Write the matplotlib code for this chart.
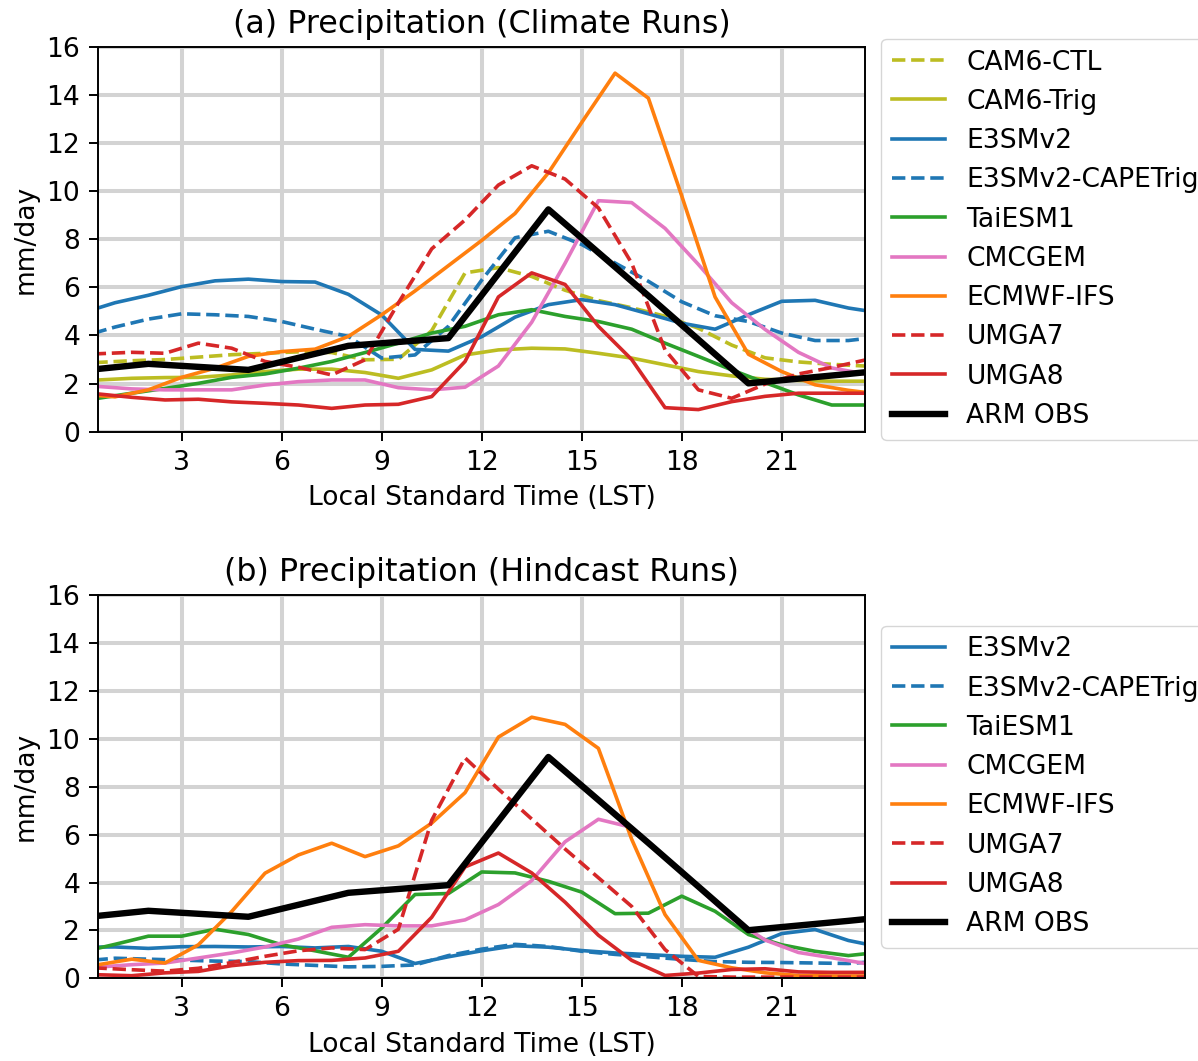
import numpy as np
import matplotlib
matplotlib.use("Agg")
import matplotlib.pyplot as plt

# ---------------- data ----------------
hours_int = np.arange(0, 24)            # models sampled on the hour
hours_half = np.arange(0.5, 24, 1.0)    # models sampled at half hours
obs_hours = np.array([2, 5, 8, 11, 14, 17, 20, 23])
arm_obs = [2.82, 2.57, 3.57, 3.89, 9.24, 5.65, 2.01, 2.40]

# (a) climate runs
cam6_ctl = [2.88, 2.95, 3.00, 3.10, 3.20, 3.26, 3.32, 3.29, 2.99, 3.01, 4.20, 6.60,
            6.82, 6.45, 5.88, 5.45, 5.15, 4.80, 4.30, 3.60, 3.07, 2.90, 2.80, 2.73]
cam6_trig = [2.15, 2.22, 2.25, 2.26, 2.36, 2.50, 2.60, 2.60, 2.46, 2.22, 2.57, 3.19,
             3.40, 3.47, 3.44, 3.26, 3.06, 2.78, 2.50, 2.32, 2.18, 2.13, 2.10, 2.10]
e3sm_a = [4.93, 5.36, 5.67, 6.03, 6.27, 6.34, 6.24, 6.22, 5.71, 4.85, 3.42, 3.35,
          3.95, 4.76, 5.28, 5.49, 5.28, 4.90, 4.51, 4.26, 4.86, 5.42, 5.46, 5.14]
e3sm_cape_a = [3.95, 4.35, 4.68, 4.90, 4.86, 4.79, 4.58, 4.26, 3.96, 3.06, 3.19, 4.38,
               6.30, 8.06, 8.33, 7.78, 7.01, 6.25, 5.40, 4.82, 4.58, 4.10, 3.79, 3.79]
taiesm_a = [1.39, 1.60, 1.80, 2.01, 2.26, 2.40, 2.64, 2.92, 3.29, 3.68, 4.10, 4.38,
            4.86, 5.07, 4.79, 4.58, 4.26, 3.68, 3.13, 2.57, 2.04, 1.53, 1.11, 1.11]
cmcgem_a = [1.88, 1.78, 1.74, 1.74, 1.74, 1.94, 2.08, 2.15, 2.15, 1.83, 1.74, 1.85,
            2.73, 4.55, 7.00, 9.60, 9.52, 8.45, 6.95, 5.36, 4.25, 3.30, 2.65, 2.40]
ecmwf_a = [1.55, 1.45, 1.74, 2.26, 2.64, 3.13, 3.33, 3.43, 3.96, 4.86, 5.85, 6.90,
           7.95, 9.07, 10.76, 12.85, 14.90, 13.86, 9.80, 5.60, 3.22, 2.50, 1.95, 1.72]
umga7_a = [3.24, 3.30, 3.26, 3.68, 3.47, 2.92, 2.68, 2.36, 2.99, 5.35, 7.60, 8.80,
           10.25, 11.05, 10.50, 9.30, 7.00, 3.40, 1.74, 1.39, 1.98, 2.40, 2.67, 2.98]
umga8_a = [1.57, 1.43, 1.32, 1.35, 1.24, 1.18, 1.11, 0.97, 1.11, 1.14, 1.46, 2.92,
           5.60, 6.60, 6.12, 4.38, 3.00, 1.00, 0.92, 1.25, 1.47, 1.60, 1.60, 1.60]

# (b) hindcast runs
e3sm_b = [1.30, 1.31, 1.25, 1.32, 1.33, 1.31, 1.33, 1.27, 1.33, 1.13, 0.62, 0.90,
          1.15, 1.36, 1.30, 1.16, 1.06, 0.99, 0.92, 0.88, 1.30, 1.87, 2.04, 1.58]
e3sm_cape_b = [0.72, 0.84, 0.80, 0.76, 0.72, 0.70, 0.60, 0.54, 0.48, 0.50, 0.56, 0.95,
               1.22, 1.42, 1.33, 1.13, 1.00, 0.90, 0.79, 0.70, 0.67, 0.66, 0.64, 0.62]
taiesm_b = [1.10, 1.42, 1.76, 1.76, 2.05, 1.83, 1.40, 1.15, 0.88, 2.10, 3.50, 3.54,
            4.44, 4.40, 4.05, 3.60, 2.70, 2.72, 3.43, 2.80, 1.83, 1.40, 1.13, 0.95]
cmcgem_b = [0.47, 0.57, 0.64, 0.85, 1.06, 1.31, 1.64, 2.13, 2.24, 2.19, 2.19, 2.44,
            3.08, 4.08, 5.70, 6.64, 6.30, 5.05, 3.80, 2.50, 1.60, 1.08, 0.86, 0.62]
ecmwf_b = [0.57, 0.80, 0.64, 1.40, 2.79, 4.39, 5.15, 5.64, 5.08, 5.53, 6.48, 7.75,
           10.07, 10.90, 10.60, 9.60, 5.80, 2.66, 0.75, 0.44, 0.23, 0.12, 0.10, 0.10]
umga7_b = [0.43, 0.36, 0.30, 0.42, 0.66, 0.92, 1.15, 1.27, 1.20, 2.05, 6.60, 9.20,
           7.90, 6.65, 5.40, 4.20, 3.00, 1.20, 0.08, 0.05, 0.05, 0.05, 0.05, 0.05]
umga8_b = [0.15, 0.11, 0.23, 0.29, 0.53, 0.67, 0.74, 0.75, 0.85, 1.13, 2.55, 4.65,
           5.23, 4.40, 3.18, 1.80, 0.75, 0.12, 0.22, 0.37, 0.40, 0.27, 0.25, 0.25]

xticks = [3, 6, 9, 12, 15, 18, 21]
yticks = [0, 2, 4, 6, 8, 10, 12, 14, 16]


def cyclic(x, y):
    """Extend a diurnal cycle by one period on each side (day wraps around)."""
    x = np.asarray(x, float)
    y = np.asarray(y, float)
    return np.concatenate([x - 24, x, x + 24]), np.concatenate([y, y, y])


LW = 2.6
FS = 19.1
panel_a = [
    ("CAM6-CTL", hours_half, cam6_ctl, "tab:olive", "--"),
    ("CAM6-Trig", hours_half, cam6_trig, "tab:olive", "-"),
    ("E3SMv2", hours_int, e3sm_a, "tab:blue", "-"),
    ("E3SMv2-CAPETrig", hours_int, e3sm_cape_a, "tab:blue", "--"),
    ("TaiESM1", hours_half, taiesm_a, "tab:green", "-"),
    ("CMCGEM", hours_half, cmcgem_a, "tab:pink", "-"),
    ("ECMWF-IFS", hours_int, ecmwf_a, "tab:orange", "-"),
    ("UMGA7", hours_half, umga7_a, "tab:red", "--"),
    ("UMGA8", hours_half, umga8_a, "tab:red", "-"),
]
panel_b = [
    ("E3SMv2", hours_int, e3sm_b, "tab:blue", "-"),
    ("E3SMv2-CAPETrig", hours_int, e3sm_cape_b, "tab:blue", "--"),
    ("TaiESM1", hours_int, taiesm_b, "tab:green", "-"),
    ("CMCGEM", hours_half, cmcgem_b, "tab:pink", "-"),
    ("ECMWF-IFS", hours_half, ecmwf_b, "tab:orange", "-"),
    ("UMGA7", hours_half, umga7_b, "tab:red", "--"),
    ("UMGA8", hours_half, umga8_b, "tab:red", "-"),
]

fig = plt.figure(figsize=(11.98, 10.61), dpi=100)
ax_a = fig.add_axes([0.0821, 0.5931, 0.640, 0.3629])
ax_b = fig.add_axes([0.0821, 0.0779, 0.640, 0.3613])

for ax, series, title in [(ax_a, panel_a, "(a) Precipitation (Climate Runs)"),
                          (ax_b, panel_b, "(b) Precipitation (Hindcast Runs)")]:
    for name, x, y, c, ls in series:
        xx, yy = cyclic(x, y)
        ax.plot(xx, yy, color=c, ls=ls, lw=LW, label=name)
    xo, yo = cyclic(obs_hours, arm_obs)
    ax.plot(xo, yo, color="black", lw=4.6, label="ARM OBS")
    ax.set_xlim(0.5, 23.5)
    ax.set_ylim(0, 16)
    ax.set_xticks(xticks)
    ax.set_yticks(yticks)
    ax.grid(True, color="lightgray", lw=2.9)
    ax.set_axisbelow(True)
    ax.tick_params(labelsize=FS, width=1.4, length=6.5, pad=6.5)
    for s in ax.spines.values():
        s.set_linewidth(1.4)
    ax.set_xlabel("Local Standard Time (LST)", fontsize=FS, labelpad=7)
    ax.set_ylabel("mm/day", fontsize=FS, labelpad=6)
    ax.set_title(title, fontsize=22.9, pad=10)
    leg = ax.legend(loc="center left", bbox_to_anchor=(1.004, 0.5), fontsize=FS,
                    handlelength=2.0, labelspacing=0.5)

fig.savefig("out.png", dpi=100)
